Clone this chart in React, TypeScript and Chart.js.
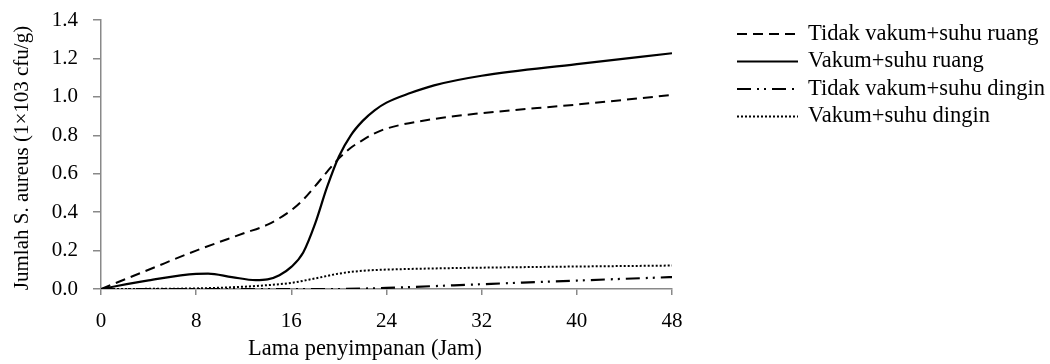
import React, { useEffect, useRef } from "react";
import { Chart, registerables } from "chart.js";

Chart.register(...registerables);

// Tidak vakum + suhu ruang (dashed)
const hoursA = [0, 4, 8, 12, 14, 16, 17, 18, 19, 20, 21, 22, 23, 24, 28, 32, 40, 48];
const tidakVakumRuang = [0, 0.1, 0.2, 0.29, 0.335, 0.41, 0.465, 0.535, 0.61, 0.68, 0.735, 0.775, 0.81, 0.835, 0.885, 0.915, 0.96, 1.01];

// Vakum + suhu ruang (solid)
const hoursB = [0, 4, 8, 9, 11, 13, 14, 15, 16, 17, 18, 19, 20, 21, 22, 23, 24, 26, 28, 32, 40, 48];
const vakumRuang = [0, 0.045, 0.079, 0.08, 0.062, 0.046, 0.05, 0.072, 0.115, 0.19, 0.34, 0.53, 0.69, 0.8, 0.875, 0.93, 0.97, 1.02, 1.06, 1.11, 1.17, 1.227];

// Tidak vakum + suhu dingin (dash-dot-dot)
const hoursC = [0, 8, 16, 20, 24, 32, 40, 48];
const tidakVakumDingin = [0, 0, 0, 0, 0.006, 0.025, 0.044, 0.062];

// Vakum + suhu dingin (dotted)
const hoursD = [0, 8, 12, 14, 16, 18, 20, 22, 24, 28, 32, 40, 48];
const vakumDingin = [0, 0.003, 0.012, 0.02, 0.032, 0.055, 0.08, 0.095, 0.101, 0.107, 0.111, 0.117, 0.122];

const seriesLabels = [
  "Tidak vakum+suhu ruang",
  "Vakum+suhu ruang",
  "Tidak vakum+suhu dingin",
  "Vakum+suhu dingin",
];

const xTicks = [0, 8, 16, 24, 32, 40, 48];
const yTicks = [0, 0.2, 0.4, 0.6, 0.8, 1.0, 1.2, 1.4];

const xTitle = "Lama penyimpanan (Jam)";
const yTitle = "Jumlah S. aureus (1×103 cfu/g)";

const FONT = '"Liberation Serif", "Times New Roman", serif';
const AXIS_GRAY = "#898989";

const sideLegend = {
  id: "sideLegend",
  afterDraw(chart: any) {
    const ctx = chart.ctx;
    chart.data.datasets.forEach((ds: any, i: number) => {
      const y = 34 + i * 27.5;
      ctx.save();
      ctx.strokeStyle = ds.borderColor;
      ctx.lineWidth = ds.borderWidth;
      ctx.setLineDash(ds.borderDash || []);
      ctx.beginPath();
      ctx.moveTo(737, y);
      ctx.lineTo(798, y);
      ctx.stroke();
      ctx.setLineDash([]);
      ctx.fillStyle = "#000";
      ctx.font = `22.5px ${FONT}`;
      ctx.textBaseline = "middle";
      ctx.textAlign = "left";
      ctx.fillText(ds.label, 808, y);
      ctx.restore();
    });
  },
};

const axisTitles = {
  id: "axisTitles",
  afterDraw(chart: any) {
    const ctx = chart.ctx;
    ctx.save();
    ctx.fillStyle = "#000";
    ctx.font = `22.4px ${FONT}`;
    ctx.textAlign = "center";
    ctx.textBaseline = "alphabetic";
    ctx.fillText(xTitle, 365, 355);
    ctx.translate(22, 158);
    ctx.rotate(-Math.PI / 2);
    ctx.font = `21px ${FONT}`;
    ctx.textBaseline = "middle";
    ctx.fillText(yTitle, 0, 0);
    ctx.restore();
  },
};

export default function App() {
  const ref = useRef<HTMLCanvasElement | null>(null);

  useEffect(() => {
    if (!ref.current) return;
    const mk = (hs: number[], vals: number[]) => hs.map((h, i) => ({ x: h, y: vals[i] }));
    const common = {
      borderColor: "#000",
      pointRadius: 0,
      cubicInterpolationMode: "monotone" as const,
      fill: false,
    };
    const chart = new Chart(ref.current, {
      type: "line",
      data: {
        datasets: [
          { ...common, label: seriesLabels[0], data: mk(hoursA, tidakVakumRuang), borderWidth: 2, borderDash: [10, 6] },
          { ...common, label: seriesLabels[1], data: mk(hoursB, vakumRuang), borderWidth: 2.2, borderDash: [] },
          { ...common, label: seriesLabels[2], data: mk(hoursC, tidakVakumDingin), borderWidth: 2.2, borderDash: [14, 6, 2, 5, 2, 6] },
          { ...common, label: seriesLabels[3], data: mk(hoursD, vakumDingin), borderWidth: 2, borderDash: [2, 2] },
        ],
      },
      options: {
        animation: false,
        responsive: false,
        layout: { padding: { left: 0, top: 20, right: 378, bottom: 0 } },
        plugins: {
          legend: { display: false },
          tooltip: { enabled: false },
        },
        scales: {
          x: {
            type: "linear",
            min: 0,
            max: 48,
            afterBuildTicks: (s: any) => {
              s.ticks = xTicks.map((v) => ({ value: v }));
            },
            afterFit: (s: any) => {
              s.height = 75;
            },
            ticks: {
              color: "#000",
              font: { family: FONT, size: 21 },
              padding: 14,
              maxRotation: 0,
              autoSkip: false,
            },
            grid: {
              display: true,
              drawOnChartArea: false,
              drawTicks: true,
              tickLength: 6,
              color: AXIS_GRAY,
              lineWidth: 1.5,
            },
            border: { display: true, color: AXIS_GRAY, width: 1.5 },
            title: { display: false },
          },
          y: {
            type: "linear",
            min: 0,
            max: 1.4,
            afterBuildTicks: (s: any) => {
              s.ticks = yTicks.map((v) => ({ value: v }));
            },
            afterFit: (s: any) => {
              s.width = 101;
              s.paddingTop = 0;
              s.paddingBottom = 0;
            },
            ticks: {
              color: "#000",
              font: { family: FONT, size: 21 },
              padding: 15,
              autoSkip: false,
              callback: (v: any) => Number(v).toFixed(1),
            },
            grid: {
              display: true,
              drawOnChartArea: false,
              drawTicks: true,
              tickLength: 8,
              color: AXIS_GRAY,
              lineWidth: 1.5,
            },
            border: { display: true, color: AXIS_GRAY, width: 1.5 },
            title: { display: false },
          },
        },
      },
      plugins: [sideLegend, axisTitles],
    });
    return () => chart.destroy();
  }, []);

  return (
    <div style={{ position: "fixed", left: 0, top: 0, width: 1050, height: 364, background: "#fff" }}>
      <canvas ref={ref} width={1050} height={364} style={{ display: "block" }} />
    </div>
  );
}
